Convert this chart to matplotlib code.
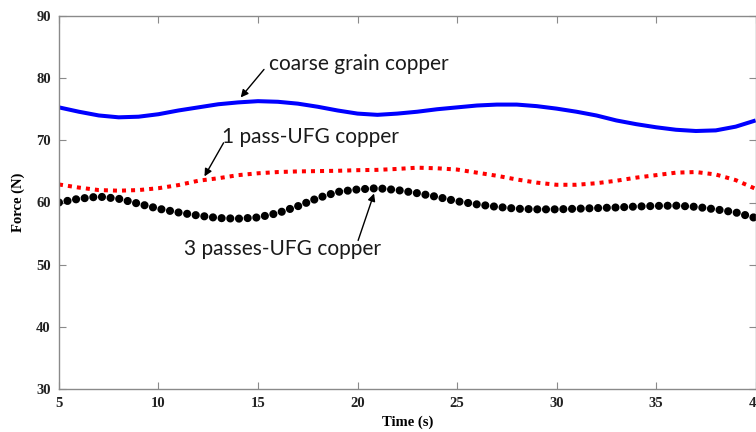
import numpy as np
import matplotlib
matplotlib.use("Agg")
import matplotlib.pyplot as plt

# values, one per second
time_s = list(range(5, 41))

coarse = [75.3, 74.6, 74.0, 73.7, 73.8, 74.2, 74.8, 75.3, 75.8, 76.1,
          76.3, 76.2, 75.9, 75.4, 74.8, 74.3, 74.1, 74.3, 74.6, 75.0,
          75.3, 75.6, 75.75, 75.75, 75.5, 75.1, 74.6, 74.0, 73.2, 72.6,
          72.1, 71.7, 71.5, 71.6, 72.2, 73.2]

pass1 = [62.9, 62.4, 62.0, 61.9, 62.0, 62.3, 62.8, 63.5, 63.9, 64.4,
         64.7, 64.9, 65.0, 65.05, 65.1, 65.2, 65.25, 65.4, 65.6, 65.5,
         65.3, 64.8, 64.3, 63.7, 63.2, 62.85, 62.85, 63.1, 63.5, 64.0,
         64.4, 64.8, 64.9, 64.5, 63.6, 62.2]

pass3 = [60.0, 60.6, 60.95, 60.6, 59.8, 59.0, 58.4, 57.9, 57.5, 57.4,
         57.6, 58.3, 59.4, 60.7, 61.7, 62.1, 62.3, 62.0, 61.5, 60.9,
         60.2, 59.7, 59.3, 59.0, 58.9, 58.9, 59.0, 59.1, 59.2, 59.35,
         59.45, 59.5, 59.3, 58.9, 58.4, 57.5]

x_ticks = [5, 10, 15, 20, 25, 30, 35, 40]
y_ticks = [30, 40, 50, 60, 70, 80, 90]

fig = plt.figure(figsize=(7.56, 4.32), dpi=100)
ax = fig.add_axes([0.078, 0.0995, 0.9215, 0.8635])

ax.plot(time_s, coarse, '-', color='#0000ff', lw=2.9, solid_capstyle='butt')
red, = ax.plot(time_s, pass1, color='#ff0000', lw=2.9)
red.set_dashes((1.0, 1.25))
red.set_dash_capstyle('butt')
blk, = ax.plot(time_s, pass3, color='black', lw=5.9)
blk.set_dashes((0.001, 1.06))
blk.set_dash_capstyle('round')

ax.set_xlim(5, 40)
ax.set_ylim(30, 90)
ax.set_xticks(x_ticks)
ax.set_yticks(y_ticks)

tfont = dict(family='Liberation Serif', weight='bold', size=10.5, color='#222222')
ax.set_xticklabels([str(v) for v in x_ticks], fontdict=tfont)
ax.set_yticklabels([str(v) for v in y_ticks], fontdict=tfont)
ax.tick_params(direction='in', length=5, width=0.8, color='#8a8a8a',
               top=True, right=True, pad=6)
for sp in ax.spines.values():
    sp.set_color('#8a8a8a')
    sp.set_linewidth(1.0)

ax.set_xlabel('Time (s)', fontdict=dict(family='Liberation Serif', weight='bold', size=10.5), labelpad=4)
ax.set_ylabel('Force (N)', fontdict=dict(family='Liberation Serif', weight='bold', size=10.5), labelpad=8)

afont = dict(family='Lato', size=15, color='#1a1a1a')
arr = dict(arrowstyle='-|>', color='black', lw=1.0, mutation_scale=11,
           shrinkA=0, shrinkB=0)
ax.text(15.55, 82.3, 'coarse grain copper', va='center', ha='left', **afont)
ax.annotate('', xy=(14.13, 76.9), xytext=(15.3, 81.4), arrowprops=arr)
ax.text(13.2, 70.6, '1 pass-UFG copper', va='center', ha='left', **afont)
ax.annotate('', xy=(12.31, 64.2), xytext=(13.27, 69.6), arrowprops=arr)
ax.text(11.3, 52.6, '3 passes-UFG copper', va='center', ha='left', **afont)
ax.annotate('', xy=(20.83, 61.45), xytext=(20.03, 53.9), arrowprops=arr)

plt.savefig('out.png', dpi=100)
